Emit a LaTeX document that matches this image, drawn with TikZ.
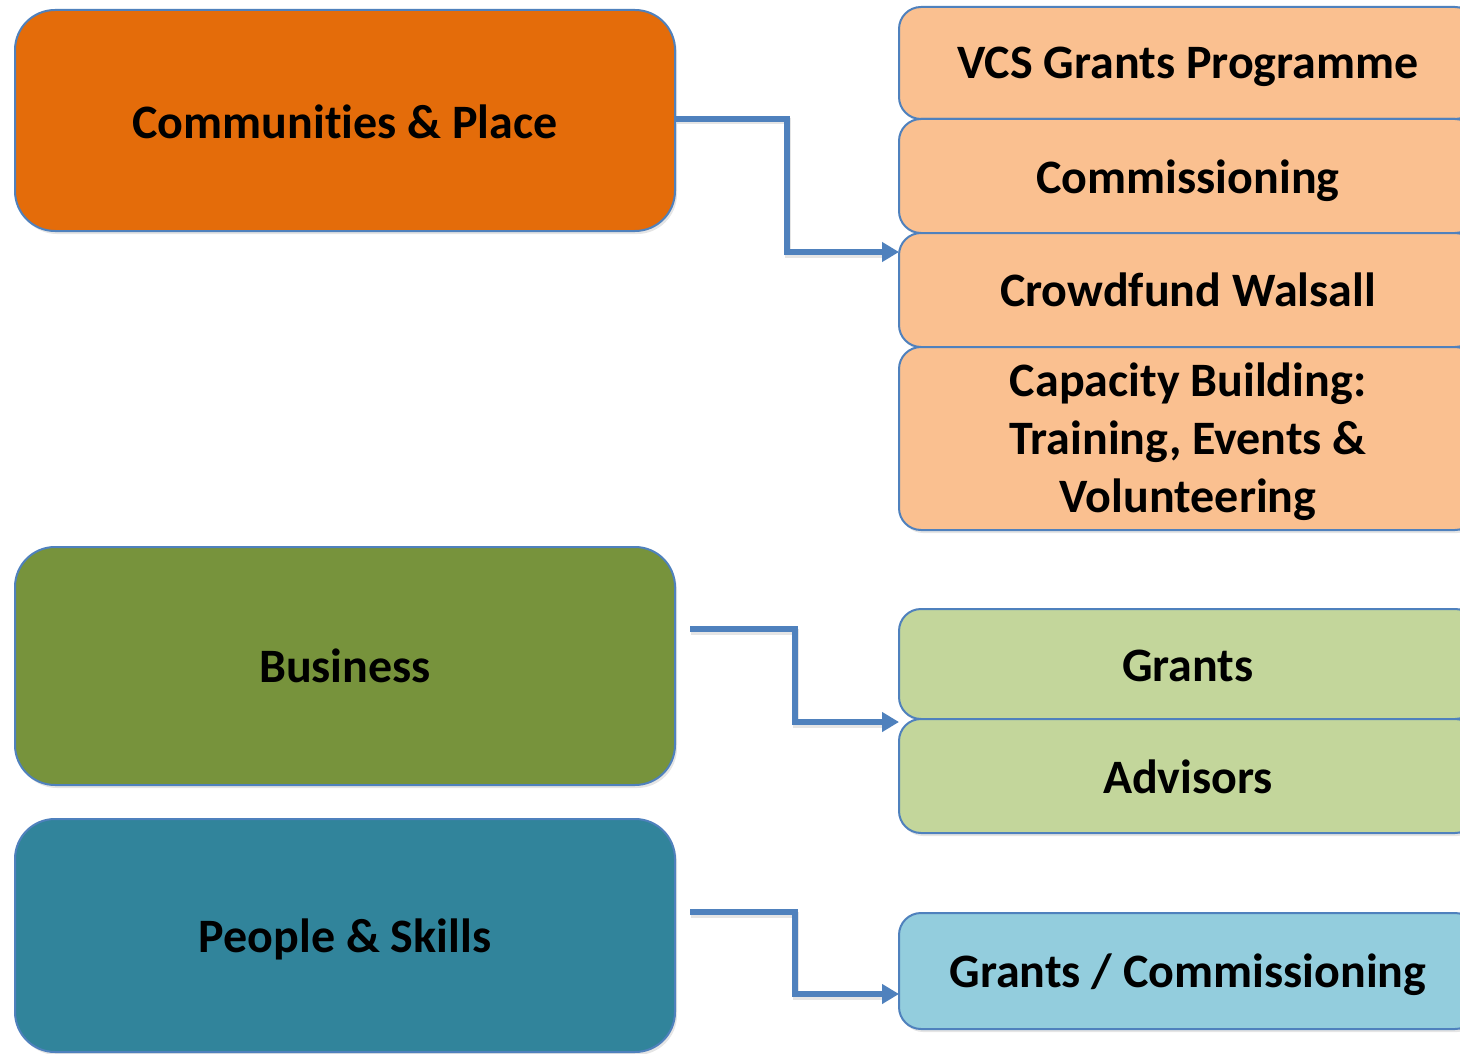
\documentclass[tikz,border=0pt]{standalone}
\usepackage{fontspec}
\setmainfont{Carlito}[Ligatures={NoCommon,NoContextual,NoRare},RawFeature={-liga;-clig;-dlig}]
\usetikzlibrary{arrows.meta,shadows}
\definecolor{cborder}{HTML}{4F81BD}
\definecolor{corange}{HTML}{E46C0A}
\definecolor{cgreen}{HTML}{77933C}
\definecolor{cteal}{HTML}{31849B}
\definecolor{lorange}{HTML}{FAC090}
\definecolor{lgreen}{HTML}{C3D69B}
\definecolor{lblue}{HTML}{93CDDD}
\tikzset{
  txt/.style={font=\fontsize{48pt}{58pt}\selectfont\bfseries, text=black, align=center, inner sep=0pt},
  bigbox/.style={draw=cborder, line width=2pt, rounded corners=40pt, inner sep=0pt,
    minimum width=660pt, drop shadow={opacity=0.2, shadow xshift=2pt, shadow yshift=-3pt}},
  smallbox/.style={draw=cborder, line width=2pt, rounded corners=22pt, inner sep=0pt,
    minimum width=578pt, drop shadow={opacity=0.2, shadow xshift=2pt, shadow yshift=-3pt}},
  conn/.style={draw=cborder, line width=6pt, -{Triangle[length=17pt,width=19pt]}},
  connshadow/.style={draw=black, opacity=0.1, line width=6pt}
}
\begin{document}
\begin{tikzpicture}[x=1pt,y=-1pt]
\useasboundingbox (0,0) rectangle (1460,1054);
\clip (0,0) rectangle (1460,1054);
\fill[white] (0,0) rectangle (1460,1054);
% left boxes
\node[bigbox, fill=corange, minimum height=221pt] (cp) at (345,120.5) {};
\node[bigbox, fill=cgreen, minimum height=238pt] (bus) at (345,666) {};
\node[bigbox, fill=cteal, minimum height=233pt] (ps) at (345,935.5) {};
% right boxes
\node[smallbox, fill=lorange, minimum height=112pt] (vcs) at (1188,63) {};
\node[smallbox, fill=lorange, minimum height=114pt] (com) at (1188,176) {};
\node[smallbox, fill=lorange, minimum height=114pt] (crowd) at (1188,290) {};
\node[smallbox, fill=lorange, minimum height=183pt] (cap) at (1188,438.5) {};
\node[smallbox, fill=lgreen, minimum height=110pt] (gr) at (1188,664) {};
\node[smallbox, fill=lgreen, minimum height=114pt] (adv) at (1188,776) {};
\node[smallbox, fill=lblue, minimum height=116pt] (gc) at (1188,971) {};
% texts
\node[txt] (cp-t) at ([yshift=-1pt]cp.center) {Communit\kern0pt ies \& Place};
\node[txt] (bus-t) at (bus.center) {Business};
\node[txt] (ps-t) at ([yshift=-4pt]ps.center) {People \& Skills};
\node[txt] (vcs-t) at ([yshift=-4pt]vcs.center) {VCS Grants Programme};
\node[txt] (com-t) at ([yshift=-5pt]com.center) {Commissioning};
\node[txt] (crowd-t) at (crowd.center) {Crowdfund Walsall};
\node[txt] (cap-t) at ([yshift=-3pt]cap.center) {Capacity Building:\\Training, Events \&\\Volunteering};
\node[txt] (gr-t) at ([yshift=-2pt]gr.center) {Grants};
\node[txt] (adv-t) at ([yshift=-1pt]adv.center) {Advisors};
\node[txt] (gc-t) at ([yshift=-4pt]gc.center) {Grants / Commissioning};
% connector end points
\coordinate (e1) at (899,252);
\coordinate (s2) at (690,629);
\coordinate (e2) at (899,722);
\coordinate (s3) at (690,912);
\coordinate (e3) at (899,994);
% shadows of connectors
\draw[connshadow] ([shift={(1,2.5)}]cp.east |- 0,119) -- (788,121.5) -- (788,254.5) -- ([shift={(-16,2.5)}]e1);
\draw[connshadow] ([shift={(1,2.5)}]s2) -- (796,631.5) -- (796,724.5) -- ([shift={(-16,2.5)}]e2);
\draw[connshadow] ([shift={(1,2.5)}]s3) -- (796,914.5) -- (796,996.5) -- ([shift={(-16,2.5)}]e3);
% connectors
\draw[conn] (cp.east |- 0,119) -- (787,119) -- (787,252) -- (e1);
\draw[conn] (s2) -- (795,629) -- (795,722) -- (e2);
\draw[conn] (s3) -- (795,912) -- (795,994) -- (e3);
\end{tikzpicture}
\end{document}
